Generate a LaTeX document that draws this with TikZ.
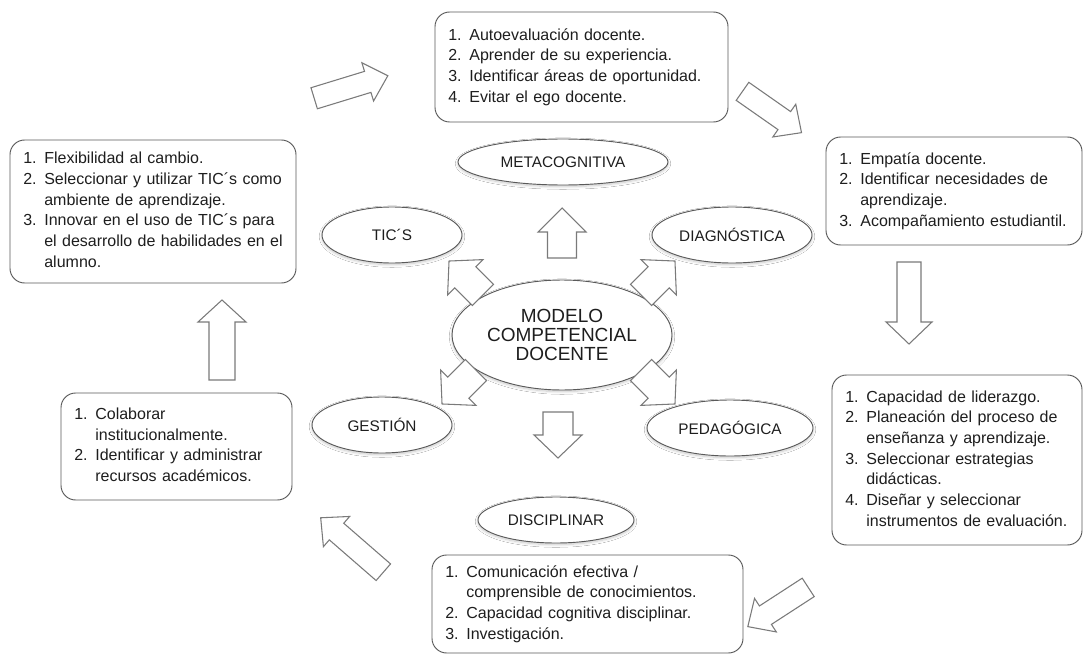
\documentclass[tikz,border=0pt]{standalone}
\usepackage{fontspec}
\setmainfont{Liberation Sans}
\usetikzlibrary{shapes.geometric,shadows.blur}
\definecolor{edge}{HTML}{5A5A5A}
\definecolor{arrgray}{HTML}{7A7A7A}
\definecolor{ink}{HTML}{1E1E1E}
\newcommand{\itemtab}[1]{\noindent\begin{tabular}{@{}p{15.75pt}@{}l@{}}#1\end{tabular}}
% block arrow: centre, angle, length, half shaft, half head, head length
\newcommand{\blkarrow}[6]{%
  \draw[blk,shift={(#1)},rotate=#2] (-#3/2,-#4)--(#3/2-#6,-#4)--(#3/2-#6,-#5)--(#3/2,0)
    --(#3/2-#6,#5)--(#3/2-#6,#4)--(-#3/2,#4)--cycle;}
\begin{document}
\begin{tikzpicture}[x=0.75pt,y=-0.75pt,line join=round,
  listbox/.style={draw=edge,line width=0.7pt,rounded corners=11pt,align=left,inner xsep=10pt,inner ysep=0pt,text=ink,font=\fontsize{12}{15.5}\selectfont},
  comp/.style={ellipse,draw=edge,line width=0.7pt,fill=white,inner sep=0pt,text=ink,font=\fontsize{11.5}{13}\selectfont,
    blur shadow={shadow xshift=0pt,shadow yshift=-1.2pt,shadow blur radius=2pt,shadow blur steps=10,shadow opacity=22}},
  blk/.style={draw=arrgray,line width=0.8pt,fill=white,line join=miter}]
\fill[white] (0,0) rectangle (1084,656);
\useasboundingbox (0,0) rectangle (1084,656);

% competencias
\node[comp,minimum width=165pt,minimum height=82.5pt,align=center,font=\fontsize{14.25}{14.5}\selectfont] (model) at (562,335) {MODELO\\COMPETENCIAL\\DOCENTE};
\node[comp,minimum width=157.5pt,minimum height=34.5pt] (meta) at (563,162) {METACOGNITIVA};
\node[comp,minimum width=105pt,minimum height=42pt] (tic) at (392,235) {TIC´S};
\node[comp,minimum width=120pt,minimum height=42pt] (diag) at (732,235) {DIAGNÓSTICA};
\node[comp,minimum width=105pt,minimum height=42pt] (gest) at (382,425) {GESTIÓN};
\node[comp,minimum width=124.5pt,minimum height=42pt] (ped) at (730,428) {PEDAGÓGICA};
\node[comp,minimum width=117pt,minimum height=34.5pt] (disc) at (556,520) {DISCIPLINAR};

% listas
\node[listbox,text width=199.75pt,minimum height=82.5pt] (tbox) at (581.5,67) {\itemtab{1. & Autoevaluación docente.\\ 2. & Aprender de su experiencia.\\ 3. & Identificar áreas de oportunidad.\\ 4. & Evitar el ego docente.}};
\node[listbox,text width=172pt,minimum height=81pt] (rbox) at (954,191) {\itemtab{1. & Empatía docente.\\ 2. & Identificar necesidades de\\ & aprendizaje.\\ 3. & Acompañamiento estudiantil.}};
\node[listbox,text width=167.5pt,minimum height=127.5pt] (brbox) at (957,460) {\itemtab{1. & Capacidad de liderazgo.\\ 2. & Planeación del proceso de\\ & enseñanza y aprendizaje.\\ 3. & Seleccionar estrategias\\ & didácticas.\\ 4. & Diseñar y seleccionar\\ & instrumentos de evaluación.}};
\node[listbox,text width=213.25pt,minimum height=73.5pt] (bbox) at (587.5,604) {\itemtab{1. & Comunicación efectiva /\\ & comprensible de conocimientos.\\ 2. & Capacidad cognitiva disciplinar.\\ 3. & Investigación.}};
\node[listbox,text width=153.25pt,minimum height=80.25pt] (blbox) at (176.5,446.5) {\itemtab{1. & Colaborar\\ & institucionalmente.\\ 2. & Identificar y administrar\\ & recursos académicos.}};
\node[listbox,text width=194.5pt,minimum height=107.25pt] (lbox) at (153,211.5) {\itemtab{1. & Flexibilidad al cambio.\\ 2. & Seleccionar y utilizar TIC´s como\\ & ambiente de aprendizaje.\\ 3. & Innovar en el uso de TIC´s para\\ & el desarrollo de habilidades en el\\ & alumno.}};

% flechas del centro
\blkarrow{562,233}{90}{50}{14.5}{24}{24}
\blkarrow{558,435}{-90}{46}{15}{24}{23}
\blkarrow{466,278}{135}{48}{15}{25}{23}
\blkarrow{658,278}{45}{48}{15}{25}{23}
\blkarrow{459,387}{-135}{48}{15}{25}{23}
\blkarrow{658,387}{-45}{48}{15}{25}{23}

% flechas del ciclo
\blkarrow{351,87}{17}{77}{11}{20}{21}
\blkarrow{772,112}{-35}{72}{11}{20}{21}
\blkarrow{909,303}{-90}{82}{12}{23}{22}
\blkarrow{778,607}{213}{72}{11}{20}{21}
\blkarrow{352,545}{139}{83}{11}{20}{21}
\blkarrow{222,340}{90}{80}{13}{24}{22}
\end{tikzpicture}
\end{document}
